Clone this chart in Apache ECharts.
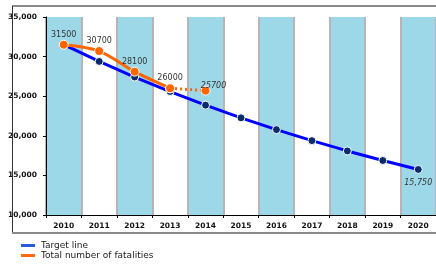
<!DOCTYPE html>
<html>
<head>
<meta charset="utf-8">
<script src="https://cdn.jsdelivr.net/npm/echarts@6/dist/echarts.min.js"></script>
<style>
  html, body { margin: 0; padding: 0; background: #fff; }
  #chart { width: 436px; height: 265px; }
</style>
</head>
<body>
<div id="chart"></div>
<script>
const years = ['2010', '2011', '2012', '2013', '2014', '2015', '2016', '2017', '2018', '2019', '2020']
const targetLine = [31500, 29390, 27420, 25590, 23870, 22270, 20780, 19390, 18090, 16880, 15750]
const fatalities = [31500, 30700, 28100, 26000, null, null, null, null, null, null, null]
const fatalitiesProjected = [null, null, null, 26000, 25700, null, null, null, null, null, null]
const yTicks = [10000, 15000, 20000, 25000, 30000, 35000]

const font = 'Verdana, "DejaVu Sans", sans-serif'
const chart = echarts.init(document.getElementById('chart'))

chart.setOption({
  animation: false,
  grid: { left: 46, right: 0, top: 17, bottom: 50 },
  graphic: [
    { type: 'line', shape: { x1: 12, y1: 6, x2: 436, y2: 6 }, style: { stroke: '#8a8a8a', lineWidth: 2 }, z: 10 },
    { type: 'line', shape: { x1: 12.5, y1: 6, x2: 12.5, y2: 233 }, style: { stroke: '#333', lineWidth: 1 }, z: 10 },
    { type: 'line', shape: { x1: 12, y1: 233, x2: 436, y2: 233 }, style: { stroke: '#8a8a8a', lineWidth: 2 }, z: 10 }
  ],
  legend: {
    data: [
      { name: 'Target line', itemStyle: { color: '#2b5ad6' } },
      { name: 'Total number of fatalities', itemStyle: { color: '#ff6a10' } }
    ],
    orient: 'vertical',
    left: 21,
    top: 241,
    icon: 'rect',
    itemWidth: 14,
    itemHeight: 3,
    itemGap: 1,
    padding: 0,
    itemStyle: { borderWidth: 0 },
    lineStyle: { width: 0 },
    textStyle: { fontFamily: font, fontSize: 9, color: '#222', padding: [0, 0, 0, 1] }
  },
  xAxis: {
    type: 'category',
    data: years,
    boundaryGap: true,
    axisLine: { lineStyle: { color: '#000', width: 1 } },
    axisTick: { show: true, length: 3, lineStyle: { color: '#000' } },
    axisLabel: { fontFamily: font, fontSize: 7.5, fontWeight: 'bold', color: '#111', margin: 7 },
    splitLine: { show: true, lineStyle: { color: '#b5b5b5', width: 2 } },
    splitArea: { show: true, areaStyle: { color: ['#9dd8e8', '#ffffff'] } }
  },
  yAxis: {
    type: 'value',
    min: yTicks[0],
    max: yTicks[yTicks.length - 1],
    interval: 5000,
    axisLine: { show: true, lineStyle: { color: '#000', width: 1 } },
    axisTick: { show: true, length: 3, lineStyle: { color: '#000' } },
    axisLabel: {
      fontFamily: font, fontSize: 7.5, fontWeight: 'bold', color: '#111', margin: 9,
      formatter: v => v.toLocaleString('en-US')
    },
    splitLine: { show: false }
  },
  series: [
    {
      name: 'Target line',
      type: 'line',
      data: targetLine.map((v, i) => i === targetLine.length - 1
        ? { value: v, label: { show: true, position: 'bottom', distance: 5, fontStyle: 'italic', formatter: p => p.value.toLocaleString('en-US') } }
        : v),
      color: '#2b5ad6',
      lineStyle: { color: '#0000ff', width: 3 },
      symbol: 'circle',
      symbolSize: 8,
      itemStyle: { color: '#0b2c6b', borderColor: '#fff', borderWidth: 1 },
      label: { show: false, fontFamily: font, fontSize: 8, color: '#333' },
      z: 3
    },
    {
      name: 'Total number of fatalities',
      type: 'line',
      data: fatalities,
      color: '#ff6a10',
      smooth: 0.3,
      lineStyle: { color: '#ff6600', width: 3 },
      symbol: 'circle',
      symbolSize: 9,
      itemStyle: { color: '#ff6600', borderColor: '#fff', borderWidth: 1 },
      label: { show: true, position: 'top', distance: 1, fontFamily: font, fontSize: 8, color: '#333' },
      z: 4
    },
    {
      name: 'Projected',
      type: 'line',
      data: fatalitiesProjected.map((v, i) => i === 4
        ? { value: v, label: { show: true, position: 'inside', offset: [8, -5], fontStyle: 'italic' } }
        : v),
      color: '#ff6600',
      lineStyle: { color: '#ff6600', width: 3, type: [2, 3] },
      symbol: 'circle',
      symbolSize: 9,
      itemStyle: { color: '#ff6600', borderColor: '#fff', borderWidth: 1 },
      label: { show: false, fontFamily: font, fontSize: 8, color: '#333' },
      z: 4
    }
  ]
})
</script>
</body>
</html>
